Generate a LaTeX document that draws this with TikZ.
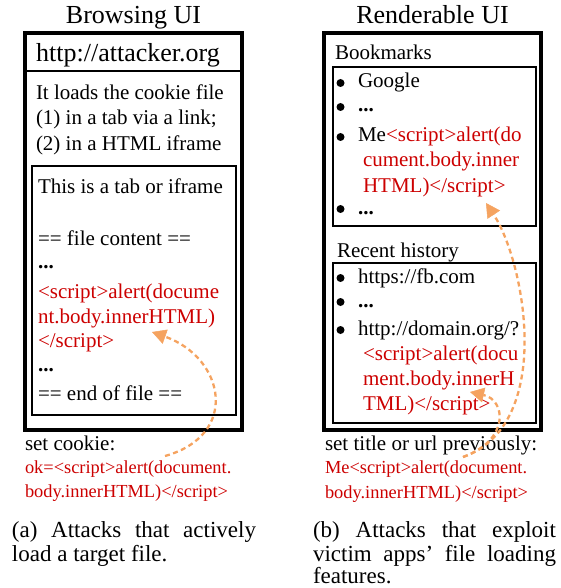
\documentclass[tikz,border=0pt]{standalone}
\usepackage{fontspec}
\setmainfont{Liberation Serif}
\usetikzlibrary{arrows.meta}
\definecolor{redt}{RGB}{204,0,0}
\definecolor{orng}{RGB}{245,163,96}
\begin{document}
\begin{tikzpicture}[x=1pt,y=-1pt,
  ln/.style={anchor=base west,inner sep=0pt,outer sep=0pt},
  body/.style={ln,font=\fontsize{21}{25}\selectfont},
  bdot/.style={circle,fill,inner sep=0pt,minimum size=8pt},
  big/.style={inner sep=0pt,font=\fontsize{26}{30}\selectfont},
  small/.style={ln,font=\fontsize{18.4}{24}\selectfont,text=redt},
  captxt/.style={ln,font=\fontsize{23}{25}\selectfont},
  rd/.style={text=redt},
  frameout/.style={draw,line width=3.5pt},
  framein/.style={draw,line width=1.4pt},
  atk/.style={draw=orng,line width=2.3pt,dash pattern=on 5pt off 3.5pt,
    -{Triangle[length=14pt,width=15pt,line width=0.5pt]}}]
\useasboundingbox (0,0) rectangle (560,588);

% ---------- left panel ----------
\node[big,anchor=base] (ltitle) at (133.5,24) {Browsing UI};
\draw[frameout] (25,33) rectangle (242,430);
\draw[line width=1.3pt] (25,71) -- (242,71);
\node[big,anchor=base west] (lurl) at (36,62) {http://attacker.org};
\node[body] (l1) at (36,100) {It loads the cookie file};
\node[body] (l2) at (36,125) {(1) in a tab via a link;};
\node[body] (l3) at (36,150) {(2) in a HTML iframe};
\draw[framein] (32,166) rectangle (236,415);
\node[body] (l4) at (38,193) {This is a tab or iframe};
\node[body] (l5) at (38,245) {== file content ==};
\node[body] (l6) at (38,268) {\textbf{...}};
\node[body,rd] (l7) at (38,298) {<script>alert(docume};
\node[body,rd] (l8) at (38,323) {nt.body.innerHTML)};
\node[body,rd] (l9) at (38,347) {</script>};
\node[body] (l10) at (38,371) {\textbf{...}};
\node[body] (l11) at (38,400) {== end of file ==};
\node[body] (lc1) at (25,450) {set cookie:};
\node[small] (lc2) at (25,473) {ok=<script>alert(document.};
\node[small] (lc3) at (25,497) {body.innerHTML)</script>};
\node[captxt] (lcap1) at (12,537) {\makebox[244pt][s]{(a) Attacks that actively}};
\node[captxt] (lcap2) at (12,561) {load a target file.};

% ---------- right panel ----------
\node[big,anchor=base] (rtitle) at (432.5,24) {Renderable UI};
\draw[frameout] (324,33) rectangle (541,430);
\node[body] (bm) at (335,60) {Bookmarks};
\draw[framein] (333,67) rectangle (536,226);
\node[bdot] (bb1) at (340.5,83) {};
\node[body] (bt1) at (358,88) {Google};
\node[bdot] (bb2) at (340.5,107) {};
\node[body] (bt2) at (358,112) {\textbf{...}};
\node[bdot] (bb3) at (340.5,137) {};
\node[body] (bt3) at (358,142) {Me\textcolor{redt}{<script>alert(do}};
\node[body,rd] (bt4) at (363,167) {cument.body.inner};
\node[body,rd] (bt5) at (363,192) {HTML)</script>};
\node[bdot] (bb6) at (340.5,209) {};
\node[body] (bt6) at (358,214) {\textbf{...}};

\node[body] (rh) at (337,257) {Recent history};
\draw[framein] (333,263) rectangle (536,423);
\node[bdot] (hb1) at (340.5,278) {};
\node[body] (ht1) at (358,283) {https://fb.com};
\node[bdot] (hb2) at (340.5,302) {};
\node[body] (ht2) at (358,307) {\textbf{...}};
\node[bdot] (hb3) at (340.5,330) {};
\node[body] (ht3) at (358,335) {http://domain.org/?};
\node[body,rd] (ht4) at (363,360) {<script>alert(docu};
\node[body,rd] (ht5) at (363,385) {ment.body.innerH};
\node[body,rd] (ht6) at (363,410) {TML)</script>};

\node[body] (rc1) at (325,450) {set title or url previously:};
\node[small] (rc2) at (325,473) {Me<script>alert(document.};
\node[small] (rc3) at (325,498) {body.innerHTML)</script>};
\node[captxt] (rcap1) at (313,537) {\makebox[243pt][s]{(b) Attacks that exploit}};
\node[captxt] (rcap2) at (313,561) {\makebox[243pt][s]{victim apps’ file loading}};
\node[captxt] (rcap3) at (313,583) {features.};

% ---------- arrows ----------
\coordinate (la0) at (165,456);
\coordinate (la1) at (152,332);
\draw[atk] (la0) .. controls (240,435) and (225,358) .. (la1);

\coordinate (ra0) at (463,457);
\coordinate (ra1) at (486,203);
\coordinate (rb1) at (470,392);
\draw[atk] (ra0) .. controls (555,425) and (525,262) .. (ra1);
\draw[atk] (ra0) .. controls (510,440) and (506,400) .. (rb1);
\end{tikzpicture}
\end{document}
